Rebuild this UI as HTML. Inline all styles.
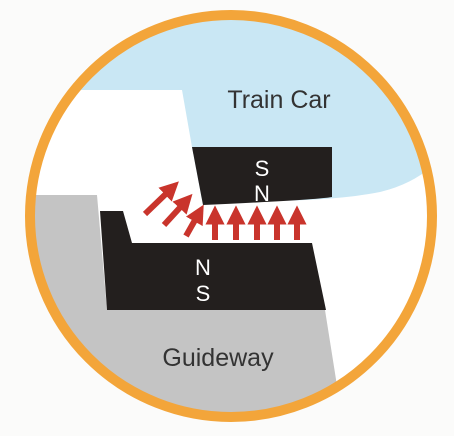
<!DOCTYPE html>
<html><head><meta charset="utf-8"><style>
html,body{margin:0;padding:0;background:#fbfbfa;width:454px;height:436px;overflow:hidden}
svg{display:block}
text{font-family:"Liberation Sans",sans-serif}
</style></head><body>
<svg width="454" height="436" viewBox="0 0 454 436">
<defs>
<clipPath id="c"><circle cx="231" cy="216" r="201"/></clipPath>
<marker id="ah" viewBox="0 0 10 10" refX="5" refY="5" markerWidth="3.2" markerHeight="3.2" orient="auto"><path d="M0,0 L10,5 L0,10 z" fill="#c9342c"/></marker>
</defs>
<g clip-path="url(#c)">
<rect x="0" y="0" width="454" height="436" fill="#ffffff"/>
<path d="M0,0 L454,0 L454,140 Q430,180 380,192 Q320,204 202,200 L192,147 L182,90 L0,90 Z" fill="#c9e7f4"/>
<path d="M0,195 L97,195 L107,310 L325,310 L345,436 L0,436 Z" fill="#c4c4c4"/>
<path d="M192,147 L332,147 L332,197 Q315,200 203,205 Z" fill="#231f1e"/>
<path d="M100,211 L123,211 L132,243 L312,243 L326,310 L107,310 Z" fill="#231f1e"/>
</g>
<circle cx="231" cy="216" r="201" fill="none" stroke="#f3a53a" stroke-width="10"/>
<g stroke="#c9342c" stroke-width="6">
<line x1="145" y1="214" x2="172" y2="188" marker-end="url(#ah)"/>
<line x1="164" y1="225" x2="186" y2="201" marker-end="url(#ah)"/>
<line x1="186" y1="236" x2="199" y2="213" marker-end="url(#ah)"/>
<line x1="215" y1="240" x2="215" y2="215" marker-end="url(#ah)"/>
<line x1="236" y1="240" x2="236" y2="215" marker-end="url(#ah)"/>
<line x1="257" y1="240" x2="257" y2="215" marker-end="url(#ah)"/>
<line x1="277" y1="240" x2="277" y2="215" marker-end="url(#ah)"/>
<line x1="297" y1="240" x2="297" y2="215" marker-end="url(#ah)"/>
</g>
<text x="279" y="108" font-size="25" fill="#333" text-anchor="middle">Train Car</text>
<text x="262" y="176" font-size="22" fill="#fff" text-anchor="middle">S</text>
<text x="262" y="201" font-size="22" fill="#fff" text-anchor="middle">N</text>
<text x="203" y="275" font-size="22" fill="#fff" text-anchor="middle">N</text>
<text x="203" y="301" font-size="22" fill="#fff" text-anchor="middle">S</text>
<text x="218" y="366" font-size="25" fill="#333" text-anchor="middle">Guideway</text>
</svg>
</body></html>
